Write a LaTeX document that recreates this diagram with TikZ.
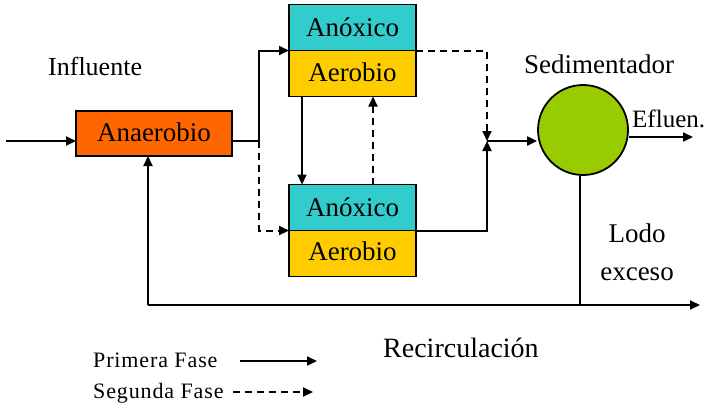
\documentclass[tikz,border=0pt]{standalone}
\usepackage{fontspec}
\setmainfont{Liberation Serif}
\newfontfamily\tnr{Liberation Serif}
\usetikzlibrary{arrows.meta,calc}

\definecolor{anaerobic}{HTML}{FF6600}
\definecolor{anoxic}{HTML}{33CCCC}
\definecolor{aerobic}{HTML}{FFCC00}
\definecolor{settler}{HTML}{99CC00}

\tikzset{
  tank/.style={draw=black, line width=1.8pt, minimum width=127pt, minimum height=46pt,
               inner sep=0pt, outer sep=0pt},
  flow/.style={line width=2pt, -{Triangle[length=10pt,width=9pt]}},
  dflow/.style={flow, dash pattern=on 7pt off 5pt},
  txt/.style={inner sep=0pt, font=\tnr\fontsize{27}{30}\selectfont},
  legend/.style={inner sep=0pt, font=\tnr\fontsize{22}{26}\selectfont\addfontfeatures{LetterSpace=4}},
}

\begin{document}
\begin{tikzpicture}[x=1pt,y=-1pt]
  \useasboundingbox (0,0) rectangle (708,410);

  % reactors
  \node[tank, fill=anaerobic, minimum width=156pt, minimum height=45pt] (ana) at (154,133.5) {};
  \node[txt, anchor=base] at (154,141.5) {Anaerobio};

  \node[tank, fill=anoxic]  (ax1) at (352.5,27.5) {};
  \node[tank, fill=aerobic] (ae1) at (352.5,73.5) {};
  \node[tank, fill=anoxic]  (ax2) at (352.5,207.5) {};
  \node[tank, fill=aerobic] (ae2) at (352.5,253.5) {};
  \node[txt, anchor=base] at (352.5,36)  {Anóxico};
  \node[txt, anchor=base] at (352.5,81)  {Aerobio};
  \node[txt, anchor=base] at (352.5,216.5) {Anóxico};
  \node[txt, anchor=base] at (352.5,260) {Aerobio};

  % settler
  \node[circle, draw=black, line width=1.8pt, fill=settler, minimum size=90pt, inner sep=0pt] (sed) at (583,130) {};

  % free ends and junctions
  \coordinate (in)    at (6,141);
  \coordinate (j1)    at (259,141);
  \coordinate (j2)    at (487,141);
  \coordinate (out)   at (693,137);
  \coordinate (r0)    at (148,305);
  \coordinate (waste) at (700,305);

  % influent and split to both trains
  \draw[flow] (in) -- (ana.west|-in);
  \draw[flow] (ana.east|-j1) -- (j1) |- (ae1.north west);
  \draw[dflow] (j1) |- (ae2.north west);

  % transfers between trains
  \draw[flow] ($(ae1.south west)+(13,0)$) -- ($(ax2.north west)+(13,0)$);
  \draw[dflow] ($(ax2.north west)+(84,0)$) -- ($(ae1.south west)+(84,0)$);

  % outlets to the settler
  \draw[dflow] (ae1.north east) -| (j2);
  \draw[flow] (ae2.north east) -| (j2);
  \draw[flow] (j2) -- (j2-|sed.west);
  \draw[flow] (sed.east|-out) -- (out);

  % sludge recycle and waste
  \draw[line width=2pt] ($(sed.south)+(-3,0)$) -- ($(sed.south|-r0)+(-3,0)$);
  \draw[flow] (r0) -- (r0|-ana.south);
  \draw[flow] (r0) -- (waste);

  % labels
  \node[txt, font=\tnr\fontsize{26}{30}\selectfont, anchor=base west] at (48,75) {Influente};
  \node[txt, anchor=base] at (599,73) {Sedimentador};
  \node[txt, font=\tnr\fontsize{25}{30}\selectfont, anchor=base west] at (632,127) {Efluen.};
  \node[txt, anchor=base] at (637,242) {Lodo};
  \node[txt, anchor=base] at (637,280) {exceso};
  \node[txt, font=\tnr\fontsize{28}{30}\selectfont, anchor=base west] at (383,357) {Recirculación};

  % legend
  \node[legend, anchor=base west] (lg1) at (93,367) {Primera Fase};
  \node[legend, anchor=base west] (lg2) at (93,398) {Segunda Fase};
  \coordinate (l1a) at (240,361);
  \coordinate (l1b) at (317,361);
  \coordinate (l2a) at (233,392);
  \coordinate (l2b) at (313,392);
  \draw[flow] (l1a) -- (l1b);
  \draw[dflow] (l2a) -- (l2b);
\end{tikzpicture}
\end{document}
